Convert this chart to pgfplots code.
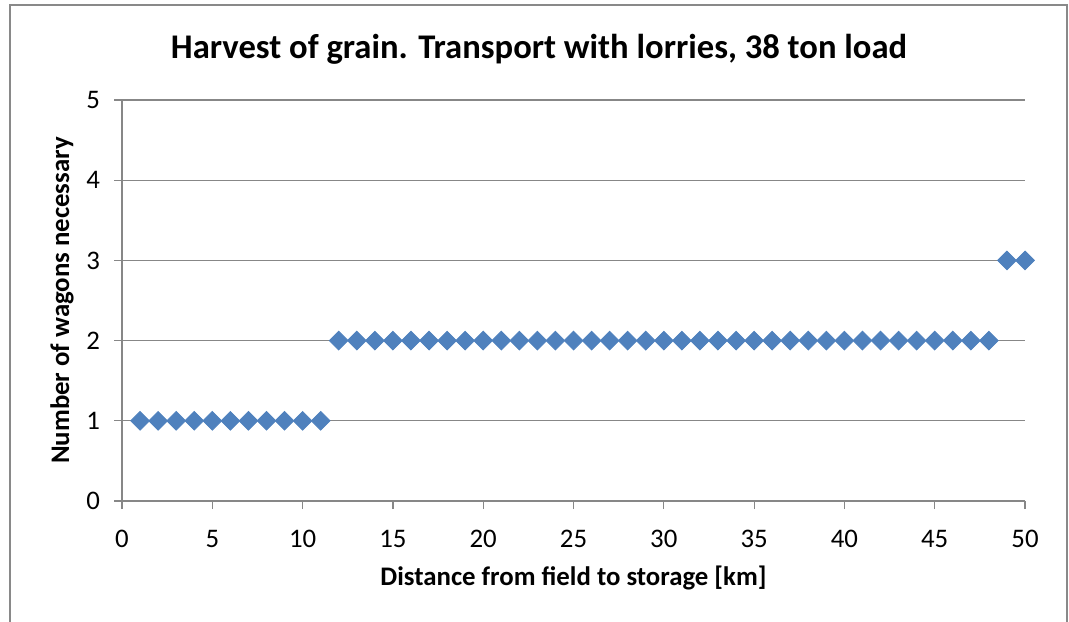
\documentclass[border=0pt]{standalone}
\usepackage{pgfplots}
\pgfplotsset{compat=1.18}
\usepackage{fontspec}
\setmainfont{Carlito}
\definecolor{framegray}{HTML}{898989}
\definecolor{gridgray}{HTML}{878787}
\definecolor{markblue}{HTML}{4F81BD}
\begin{document}
\begin{tikzpicture}[x=1pt,y=1pt]
\useasboundingbox (0,0) rectangle (534.5,310.5);
\draw[framegray, line width=0.6pt] (5,-5) -- (5,308) -- (533.5,308) -- (533.5,-5);
\begin{axis}[
  at={(61pt,60pt)}, anchor=south west,
  scale only axis, width=451.5pt, height=200.5pt,
  xmin=0, xmax=50, ymin=0, ymax=5,
  xtick={0,5,...,50}, ytick={0,1,...,5},
  axis x line*=bottom, axis y line*=left,
  axis line style={gridgray, line width=0.6pt, -},
  tick align=outside, major tick length=4pt,
  tick style={gridgray, line width=0.6pt},
  ymajorgrids, grid style={gridgray, line width=0.6pt},
  /pgf/number format/assume math mode=true,
  ticklabel style={font=\fontsize{13.4}{15}\selectfont},
  xticklabel style={yshift=-7pt},
  yticklabel style={xshift=-3.5pt},
  title={Harvest of grain. Transport with lorries, 38 ton load},
  title style={font=\fontsize{17.3}{20}\bfseries, at={([xshift=-17.25pt,yshift=19.5pt]axis description cs:0.5,1)}, anchor=center},
  xlabel={Distance from field to storage [km]},
  xlabel style={font=\fontsize{13.4}{15}\bfseries, at={([yshift=-38.5pt]axis description cs:0.5,0)}, anchor=center},
  ylabel={Number of wagons necessary},
  ylabel style={font=\fontsize{13.4}{15}\bfseries, at={([xshift=-30pt]axis description cs:0,0.5)}, anchor=center},
  clip=false,
]
\addplot[only marks, mark=square*, mark size=3.3pt, mark options={rotate=45, fill=markblue, draw=markblue}] coordinates {
(1,1)(2,1)(3,1)(4,1)(5,1)(6,1)(7,1)(8,1)(9,1)(10,1)(11,1)
(12,2)(13,2)(14,2)(15,2)(16,2)(17,2)(18,2)(19,2)(20,2)(21,2)(22,2)(23,2)(24,2)(25,2)
(26,2)(27,2)(28,2)(29,2)(30,2)(31,2)(32,2)(33,2)(34,2)(35,2)(36,2)(37,2)(38,2)(39,2)(40,2)
(41,2)(42,2)(43,2)(44,2)(45,2)(46,2)(47,2)(48,2)
(49,3)(50,3)
};
\end{axis}
\end{tikzpicture}
\end{document}
